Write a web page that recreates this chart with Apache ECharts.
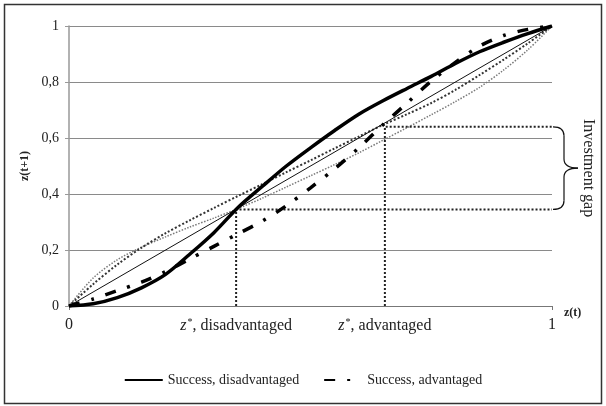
<!DOCTYPE html>
<html>
<head>
<meta charset="utf-8">
<script src="https://cdn.jsdelivr.net/npm/echarts@6/dist/echarts.min.js"></script>
<style>
html,body{margin:0;padding:0;background:#fff;}
#chart{width:606px;height:406px;}
</style>
</head>
<body>
<div id="chart"></div>
<script>
// ---- data ----
const xs = [0, 0.05, 0.1, 0.15, 0.2, 0.25, 0.3, 0.35, 0.4, 0.45, 0.5, 0.55, 0.6, 0.65, 0.7, 0.75, 0.8, 0.85, 0.9, 0.95, 1];
const successDisadvantaged = [0, 0.008, 0.03, 0.065, 0.113, 0.185, 0.262, 0.352, 0.427, 0.5, 0.565, 0.627, 0.685, 0.733, 0.777, 0.82, 0.866, 0.908, 0.942, 0.973, 1];
const successAdvantaged = [0, 0.025, 0.055, 0.085, 0.123, 0.168, 0.213, 0.258, 0.303, 0.358, 0.422, 0.49, 0.565, 0.647, 0.725, 0.803, 0.87, 0.928, 0.966, 0.988, 1];
const failureDisadvantaged = [0, 0.1, 0.165, 0.21, 0.247, 0.282, 0.314, 0.348, 0.385, 0.425, 0.465, 0.505, 0.547, 0.592, 0.637, 0.683, 0.73, 0.781, 0.843, 0.915, 1];
const failureAdvantaged = [0, 0.078, 0.148, 0.208, 0.26, 0.306, 0.35, 0.393, 0.435, 0.478, 0.52, 0.563, 0.605, 0.647, 0.685, 0.725, 0.772, 0.825, 0.88, 0.938, 1];
const diagonalX = [0, 1];
const diagonalY = [0, 1];
const zStarDis = 0.346, zStarDisY = 0.345;
const zStarAdv = 0.654, zStarAdvY = 0.64;
const legendNames = ['Success, disadvantaged', 'Success, advantaged'];
const gapLabel = 'Investment gap';

const serif = '"Liberation Serif", "DejaVu Serif", serif';
const pair = (a, b) => a.map((v, i) => [v, b[i]]);

const chart = echarts.init(document.getElementById('chart'), null, {renderer: 'canvas'});

const option = {
  animation: false,
  backgroundColor: '#fff',
  textStyle: {fontFamily: serif},
  grid: {left: 69, right: 54, top: 26, bottom: 100},
  legend: {
    data: legendNames,
    bottom: 14,
    left: 'center',
    itemWidth: 38,
    itemHeight: 8,
    itemGap: 24,
    itemStyle: {color: 'rgba(0,0,0,0)', borderWidth: 0},
    textStyle: {fontFamily: serif, fontSize: 14, color: '#222'}
  },
  xAxis: {
    type: 'value', min: 0, max: 1,
    name: 'z(t)', nameLocation: 'end', nameGap: 12,
    nameTextStyle: {fontFamily: serif, fontWeight: 'bold', fontSize: 12, color: '#222', verticalAlign: 'top', padding: [1, 0, 0, 0]},
    axisLine: {lineStyle: {color: '#777', width: 1}},
    axisTick: {show: true, customValues: [0, 1], length: 4, lineStyle: {color: '#777'}},
    splitLine: {show: false},
    axisLabel: {
      customValues: [0, zStarDis, zStarAdv, 1],
      margin: 11,
      fontFamily: serif, fontSize: 16, color: '#222',
      formatter: function (v) {
        if (Math.abs(v - zStarDis) < 1e-6) return '{i|z}{s|*}{n|, disadvantaged}';
        if (Math.abs(v - zStarAdv) < 1e-6) return '{i|z}{s|*}{n|, advantaged}';
        return '{n|' + (v === 0 ? '0' : '1') + '}';
      },
      rich: {
        i: {fontFamily: serif, fontStyle: 'italic', fontSize: 16, color: '#222'},
        s: {fontFamily: serif, fontSize: 10, color: '#222', padding: [0, 0, 7, 1]},
        n: {fontFamily: serif, fontSize: 16, color: '#222'}
      }
    }
  },
  yAxis: {
    type: 'value', min: 0, max: 1, interval: 0.2,
    name: 'z(t+1)', nameLocation: 'middle', nameGap: 31,
    nameTextStyle: {fontFamily: serif, fontWeight: 'bold', fontSize: 12, color: '#222'},
    axisLine: {show: true, lineStyle: {color: '#999', width: 1.5}},
    axisTick: {show: true, length: 4, lineStyle: {color: '#999'}},
    splitLine: {show: true, lineStyle: {color: '#8a8a8a', width: 1}},
    axisLabel: {
      margin: 10, fontFamily: serif, fontSize: 14, color: '#222',
      formatter: function (v) {
        if (v === 0) return '0';
        if (v === 1) return '1';
        return v.toFixed(1).replace('.', ',');
      }
    }
  },
  series: [
    {
      name: 'Failure, disadvantaged', type: 'line', smooth: 0.3, symbol: 'none',
      data: pair(xs, failureDisadvantaged),
      lineStyle: {color: '#7a7a7a', width: 1.5, type: [1.5, 1.5]}, z: 2
    },
    {
      name: 'Failure, advantaged', type: 'line', smooth: 0.3, symbol: 'none',
      data: pair(xs, failureAdvantaged),
      lineStyle: {color: '#333', width: 2, type: [2, 2]}, z: 2
    },
    {
      name: 'Diagonal', type: 'line', symbol: 'none',
      data: pair(diagonalX, diagonalY),
      lineStyle: {color: '#111', width: 1}, z: 3
    },
    {
      name: 'Guide disadvantaged', type: 'line', symbol: 'none',
      data: [[zStarDis, 0], [zStarDis, zStarDisY], [1, zStarDisY]],
      lineStyle: {color: '#222', width: 2, type: [2, 2]}, z: 2
    },
    {
      name: 'Guide advantaged', type: 'line', symbol: 'none',
      data: [[zStarAdv, 0], [zStarAdv, zStarAdvY], [1, zStarAdvY]],
      lineStyle: {color: '#222', width: 2, type: [2, 2]}, z: 2
    },
    {
      name: legendNames[0], type: 'line', smooth: 0.3, symbol: 'none',
      data: pair(xs, successDisadvantaged),
      lineStyle: {color: '#000', width: 3.5}, itemStyle: {color: '#000'}, z: 4
    },
    {
      name: legendNames[1], type: 'line', smooth: 0.3, symbol: 'none',
      data: pair(xs, successAdvantaged),
      lineStyle: {color: '#000', width: 3.5, type: [11, 12, 3, 12]}, itemStyle: {color: '#000'}, z: 4
    }
  ]
};
chart.setOption(option);

// annotation: outer frame, brace and label placed through the chart's own scale
const pHi = chart.convertToPixel({gridIndex: 0}, [1, zStarAdvY]);
const pLo = chart.convertToPixel({gridIndex: 0}, [1, zStarDisY]);
const bx = pHi[0] + 1, yT = pHi[1], yB = pLo[1], yM = (yT + yB) / 2;
const vx = bx + 11, tip = bx + 25, r = 9;
const braceStyle = {fill: null, stroke: '#111', lineWidth: 1.2};
const curve = (x1, y1, cx, cy, x2, y2) => ({type: 'bezierCurve', shape: {x1: x1, y1: y1, cpx1: cx, cpy1: cy, x2: x2, y2: y2}, style: braceStyle, silent: true});
const seg = (x1, y1, x2, y2) => ({type: 'line', shape: {x1: x1, y1: y1, x2: x2, y2: y2}, style: braceStyle, silent: true});

chart.setOption({
  graphic: [
    {type: 'rect', shape: {x: 4.5, y: 4.5, width: 597, height: 399}, style: {fill: null, stroke: '#333', lineWidth: 1.5}, silent: true},
    curve(bx, yT, vx, yT, vx, yT + r),
    seg(vx, yT + r, vx, yM - r),
    curve(vx, yM - r, vx, yM, tip, yM),
    curve(tip, yM, vx, yM, vx, yM + r),
    seg(vx, yM + r, vx, yB - r),
    curve(vx, yB - r, vx, yB, bx, yB),
    {
      type: 'text', x: tip + 10, y: yM, rotation: -Math.PI / 2,
      style: {text: gapLabel, font: '16px ' + serif, fill: '#222', align: 'center', verticalAlign: 'middle'},
      silent: true
    }
  ]
});
</script>
</body>
</html>
